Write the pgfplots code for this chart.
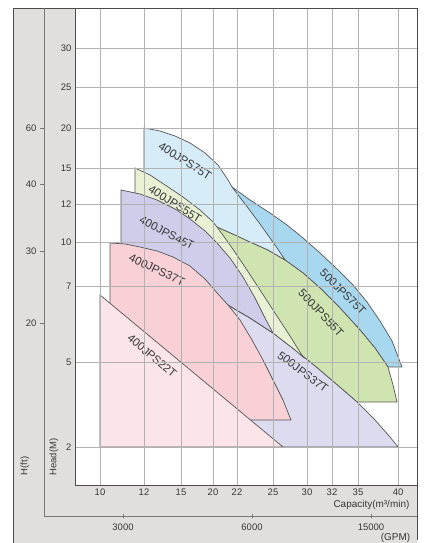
\documentclass[border=0pt]{standalone}
\usepackage{fontspec}
\setmainfont{Liberation Sans}
\usepackage{pgfplots}
\pgfplotsset{compat=1.18}
\definecolor{bggray}{RGB}{226,222,221}
\definecolor{framedark}{RGB}{75,75,75}
\definecolor{outergray}{RGB}{120,120,120}
\definecolor{gridgray}{RGB}{178,178,178}
\definecolor{edge}{RGB}{85,85,85}
\definecolor{txt}{RGB}{55,55,55}
\definecolor{cBb}{RGB}{168,216,240}
\definecolor{cGb}{RGB}{207,228,177}
\definecolor{cLb}{RGB}{221,219,240}
\definecolor{cBa}{RGB}{214,236,248}
\definecolor{cGa}{RGB}{232,241,212}
\definecolor{cLa}{RGB}{207,205,233}
\definecolor{cPa}{RGB}{248,208,214}
\definecolor{cPb}{RGB}{252,229,232}
\begin{document}
\begin{tikzpicture}[x=1bp,y=1bp]
\path[use as bounding box] (0,0) rectangle (429,543);
\fill[bggray] (13,0) rectangle (417,535);
\draw[framedark,line width=0.9pt] (13,0) -- (13,535) -- (417,535) -- (417,3);
% outer axis: H(ft) and GPM
\begin{axis}[
  at={(44bp,27bp)}, anchor=south west, scale only axis,
  width=373bp, height=508bp,
  xmin=0, xmax=373, ymin=0, ymax=508,
  axis x line*=bottom, axis y line*=left,
  axis line style={draw=outergray, line width=0.8pt, -},
  xtick={79,208,327}, xticklabels={3000,6000,15000},
  ytick={193,265,332,388}, yticklabels={20,30,40,60},
  tick align=outside, major tick length=4bp,
  tick style={draw=outergray, line width=0.6pt},
  xtick style={yshift=2bp},
  tick label style={font=\fontsize{9.5}{9.5}\selectfont, text=txt},
  /pgf/number format/assume math mode=true,
  xlabel={(GPM)}, xlabel style={at={(axis description cs:0.991,-0.0433)}, anchor=east, font=\fontsize{10}{10}\selectfont, text=txt},
  ylabel={H(ft)}, ylabel style={at={(axis description cs:-0.0509,0.0984)}, anchor=center, font=\fontsize{9.5}{9.5}\selectfont, text=txt},
]
\end{axis}
% inner axis: Head(M) and Capacity
\begin{axis}[
  at={(75bp,58bp)}, anchor=south west, scale only axis,
  width=342bp, height=477bp,
  xmin=0, xmax=342, ymin=0, ymax=477,
  clip=false, axis on top,
  axis background/.style={fill=white},
  grid=major, major grid style={draw=gridgray, line width=0.6pt},
  major tick length=0pt,
  axis line style={draw=framedark, line width=0.9pt},
  xtick={25,69,106,138,162,198,232,257,283,323},
  xticklabels={10,12,15,20,22,25,30,32,35,40},
  ytick={38,123,199,243,281,317,357,398,437},
  yticklabels={2,5,7,10,12,15,20,25,30},
  tick label style={font=\fontsize{9.5}{9.5}\selectfont, text=txt},
  /pgf/number format/assume math mode=true,
  every axis plot/.append style={draw=edge, line width=0.7pt},
]
% 500JPS75T
\addplot[fill=cBb] coordinates {(157,298)(175,285)(195,272)(212,260)(228,247)(245,232)(262,216)(278,200)(292,183)(305,164)(317,144)(327,118)(313,118)(300,137)(285,155)(265,177)(245,197)(228,212)(210,225)} -- cycle;
% 500JPS55T
\addplot[fill=cGb] coordinates {(142,258)(160,250)(175,243)(193,235)(210,225)(228,212)(245,197)(265,177)(285,155)(300,137)(313,118)(318,100)(322,83)(282,83)(260,102)(240,119)(220,135)(198,152)(175,167)(153,180)} -- cycle;
% 500JPS37T
\addplot[fill=cLb] coordinates {(153,180)(175,167)(198,152)(220,135)(240,119)(260,102)(282,83)(300,65)(315,48)(323,38)(208,38)(75,45)(75,155)} -- cycle;
% 400JPS75T
\addplot[fill=cBa] coordinates {(69,357)(85,354)(100,349)(115,342)(130,332)(143,320)(153,305)(157,298)(170,281)(185,261)(200,240)(210,225)(193,235)(175,243)(160,250)(142,258)(69,250)} -- cycle;
% 400JPS55T
\addplot[fill=cGa] coordinates {(60,317)(75,310)(90,300)(108,288)(125,275)(137,264)(142,258)(155,240)(170,218)(185,195)(200,172)(215,149)(228,128)(220,135)(198,152)(175,167)(153,180)(60,180)} -- cycle;
% 400JPS45T
\addplot[fill=cLa] coordinates {(46,295)(65,291)(82,285)(100,276)(115,266)(130,254)(142,242)(155,227)(168,208)(180,187)(190,167)(198,152)(175,167)(153,180)(100,150)(46,150)} -- cycle;
% 400JPS37T
\addplot[fill=cPa] coordinates {(35,242)(50,241)(65,238)(82,234)(98,228)(115,219)(130,206)(143,191)(153,180)(165,165)(177,145)(188,125)(198,105)(208,85)(216,65)(175,65)(35,65)} -- cycle;
% 400JPS22T
\addplot[fill=cPb] coordinates {(25,190)(208,38)(25,38)} -- cycle;
\begin{scope}[every node/.style={font=\fontsize{11.5}{11.5}\selectfont, text=txt}]
\node[rotate=-32] at (axis cs:110,324) {400JPS75T};
\node[rotate=-32] at (axis cs:100,281) {400JPS55T};
\node[rotate=-27] at (axis cs:92,252) {400JPS45T};
\node[rotate=-25] at (axis cs:82,215) {400JPS37T};
\node[rotate=-40] at (axis cs:77,129) {400JPS22T};
\node[rotate=-45] at (axis cs:268,193) {500JPS75T};
\node[rotate=-47] at (axis cs:246,172) {500JPS55T};
\node[rotate=-37] at (axis cs:228,113) {500JPS37T};
\end{scope}
\node[anchor=east, font=\fontsize{10}{10}\selectfont, text=txt] at (rel axis cs:0.988,-0.042) {Capacity(m³/min)};
\node[rotate=90, font=\fontsize{9.5}{9.5}\selectfont, text=txt] at (rel axis cs:-0.0614,0.0587) {Head(M)};
\end{axis}
\end{tikzpicture}
\end{document}
